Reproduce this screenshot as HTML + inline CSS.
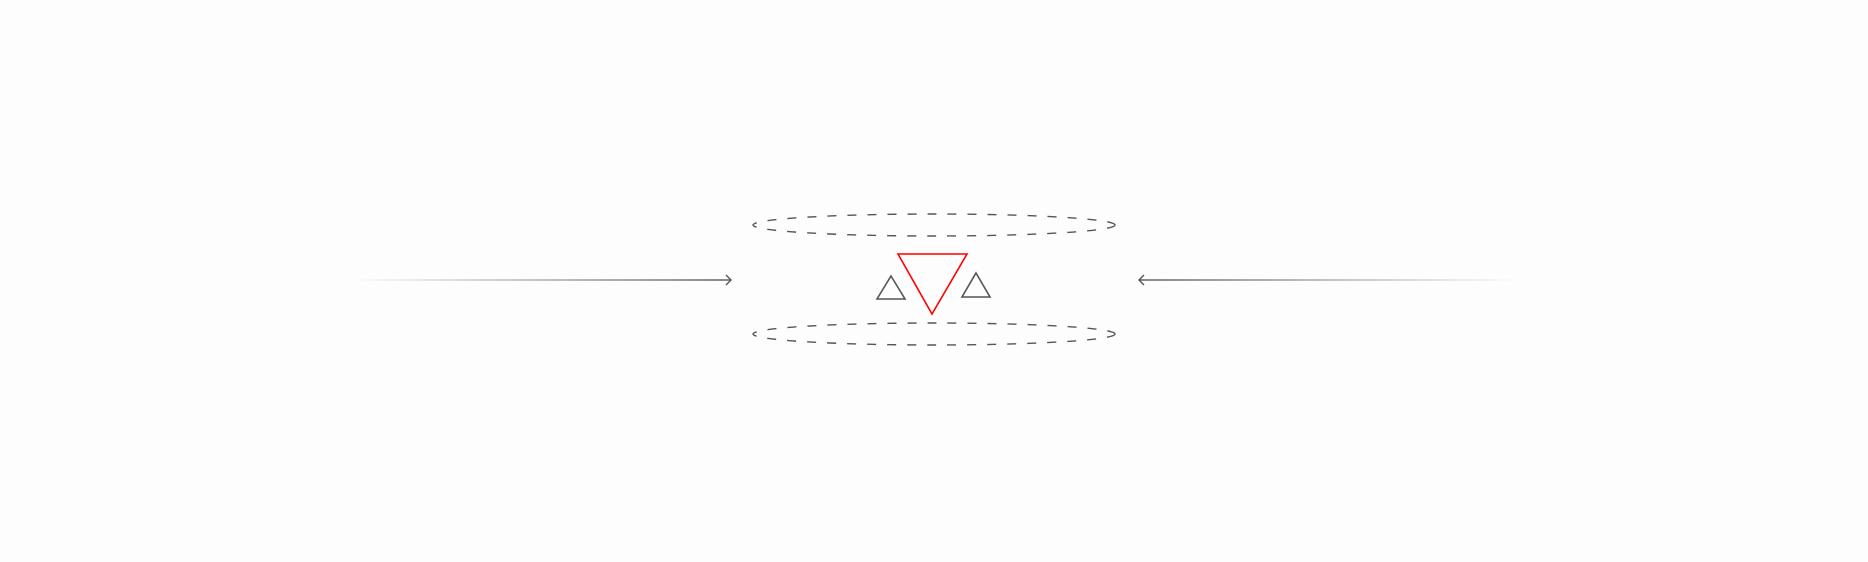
<!DOCTYPE html>
<html><head><meta charset="utf-8"><style>
html,body{margin:0;padding:0;background:#fdfdfd;}
svg{display:block;}
</style></head><body>
<svg width="1868" height="562" viewBox="0 0 1868 562">
<defs>
<linearGradient id="gl" x1="0" x2="1"><stop offset="0" stop-color="#555" stop-opacity="0"/><stop offset="1" stop-color="#555"/></linearGradient>
<linearGradient id="gr" x1="0" x2="1"><stop offset="0" stop-color="#555"/><stop offset="1" stop-color="#555" stop-opacity="0"/></linearGradient>
</defs>
<rect width="1868" height="562" fill="#fdfdfd"/>
<g>
<rect x="350" y="279.3" width="381" height="1.4" fill="url(#gl)"/>
<polyline points="726,275 731,280 726,285" fill="none" stroke="#555" stroke-width="1.4"/>
</g>
<g>
<rect x="1139" y="279.3" width="381" height="1.4" fill="url(#gr)"/>
<polyline points="1144,275 1139,280 1144,285" fill="none" stroke="#555" stroke-width="1.4"/>
</g>
<ellipse cx="934" cy="225" rx="181" ry="11" fill="none" stroke="#555" stroke-width="1.4" stroke-dasharray="9,11"/>
<ellipse cx="934" cy="334" rx="181" ry="11" fill="none" stroke="#555" stroke-width="1.4" stroke-dasharray="9,11"/>
<polygon points="898,254 967,254 932,314" fill="none" stroke="#f00" stroke-width="1.6"/>
<polygon points="891,276 905,299 877,299" fill="none" stroke="#555" stroke-width="1.6"/>
<polygon points="976,273 990,297 962,297" fill="none" stroke="#555" stroke-width="1.6"/>
</svg>
</body></html>
